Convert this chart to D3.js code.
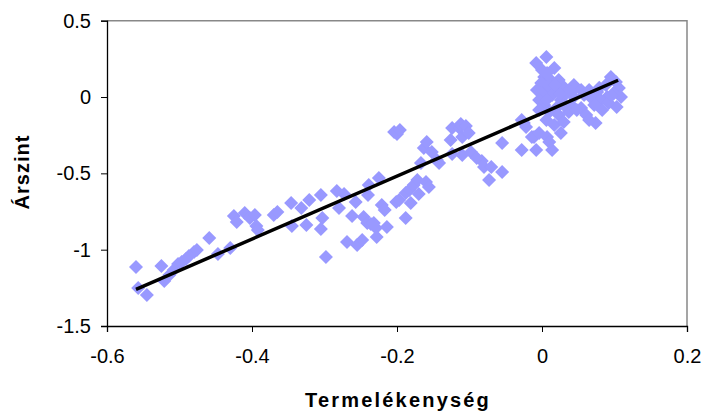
<!DOCTYPE html>
<html><head><meta charset="utf-8">
<script src="https://cdn.jsdelivr.net/npm/d3@7"></script>
<style>html,body{margin:0;padding:0;background:#fff;}svg{display:block;}</style>
</head><body><div id="chart"></div>
<script>
const xValues = [-0.560,-0.557,-0.545,-0.525,-0.521,-0.514,-0.508,-0.502,-0.497,-0.491,-0.487,-0.480,-0.476,-0.459,-0.447,-0.430,-0.425,-0.421,-0.410,-0.403,-0.396,-0.394,-0.392,-0.370,-0.365,-0.346,-0.345,-0.332,-0.325,-0.321,-0.305,-0.303,-0.305,-0.298,-0.283,-0.280,-0.273,-0.269,-0.262,-0.257,-0.255,-0.248,-0.246,-0.241,-0.240,-0.239,-0.236,-0.232,-0.229,-0.228,-0.225,-0.221,-0.217,-0.214,-0.201,-0.197,-0.204,-0.200,-0.196,-0.188,-0.188,-0.183,-0.181,-0.177,-0.172,-0.170,-0.167,-0.163,-0.160,-0.159,-0.156,-0.152,-0.145,-0.142,-0.126,-0.124,-0.124,-0.114,-0.112,-0.110,-0.110,-0.105,-0.101,-0.098,-0.083,-0.080,-0.073,-0.070,-0.055,-0.055,-0.028,-0.028,-0.022,-0.014,-0.090,
0.006,-0.008,0.000,0.017,0.003,0.012,-0.001,0.007,0.021,-0.001,0.014,0.030,0.044,0.054,0.065,0.076,0.095,0.102,0.106,0.088,0.099,0.090,0.103,0.003,0.021,0.040,0.054,0.061,0.074,0.068,0.081,0.026,0.044,-0.025,-0.011,-0.004,0.007,0.026,-0.008,0.014,0.010,-0.004,0.010,0.023,0.037,0.006,0.058,0.034,-0.004,0.017,0.030,0.092,0.072,0.023,0.007,-0.007,
0.109,0.083,0.065,0.048,0.030,0.017,0.006,0.025,0.040,0.079,0.096];
const yValues = [-1.114,-1.251,-1.297,-1.107,-1.205,-1.166,-1.133,-1.094,-1.081,-1.061,-1.041,-1.015,-1.002,-0.924,-1.028,-0.989,-0.780,-0.819,-0.760,-0.793,-0.773,-0.845,-0.871,-0.773,-0.753,-0.694,-0.845,-0.727,-0.838,-0.675,-0.642,-0.793,-0.865,-1.048,-0.616,-0.727,-0.635,-0.950,-0.780,-0.688,-0.969,-0.937,-0.786,-0.825,-0.642,-0.576,-0.832,-0.825,-0.858,-0.917,-0.531,-0.707,-0.740,-0.852,-0.688,-0.675,-0.229,-0.242,-0.216,-0.629,-0.793,-0.609,-0.694,-0.576,-0.544,-0.635,-0.432,-0.334,-0.557,-0.295,-0.590,-0.360,-0.413,-0.432,-0.282,-0.203,-0.373,-0.203,-0.177,-0.262,-0.380,-0.190,-0.236,-0.360,-0.419,-0.459,-0.544,-0.459,-0.301,-0.491,-0.347,-0.151,-0.197,-0.262,-0.400,
0.262,0.223,0.177,0.190,0.131,0.111,0.092,0.066,0.046,0.026,0.013,0.066,0.079,0.046,0.046,0.033,0.131,0.098,0.059,0.079,0.026,0.000,-0.066,-0.052,-0.066,-0.052,-0.072,-0.118,-0.170,-0.007,-0.020,-0.020,0.000,-0.170,-0.262,-0.236,-0.262,-0.236,-0.347,-0.347,-0.295,-0.020,-0.098,-0.118,-0.098,-0.151,0.013,0.026,-0.085,-0.183,-0.164,-0.039,-0.052,0.111,0.157,0.046,
0.000,-0.085,-0.151,-0.085,-0.052,0.079,-0.020,0.020,0.030,0.060,0.010];
const trendX = [-0.56, 0.105];
const trendY = [-1.26, 0.11];
const xTicks = [-0.6, -0.4, -0.2, 0, 0.2];
const yTicks = [0.5, 0, -0.5, -1, -1.5];
const xTitle = "Termelékenység";
const yTitle = "Árszint";

const W = 706, H = 412;
const L = 107, R = 687, T = 20.7, B = 326;
const svg = d3.select("#chart").append("svg").attr("width", W).attr("height", H);
const x = d3.scaleLinear().domain([-0.6, 0.2]).range([L, R]);
const y = d3.scaleLinear().domain([-1.5, 0.5]).range([B, T]);
const font = "'Liberation Sans', Arial, sans-serif";

svg.append("path").attr("d", `M${L},${T}H${R}V${B}`).attr("fill","none").attr("stroke","#888").attr("stroke-width",1.5);

const data = xValues.map((v,i)=>({x:v,y:yValues[i]}));
svg.append("g").selectAll("path").data(data).join("path")
  .attr("transform", d=>`translate(${x(d.x)},${y(d.y)})`)
  .attr("d", "M0,-7L7,0L0,7L-7,0Z")
  .attr("fill", "#9999ff");

svg.append("line")
  .attr("x1", x(trendX[0])).attr("y1", y(trendY[0]))
  .attr("x2", x(trendX[1])).attr("y2", y(trendY[1]))
  .attr("stroke", "#000").attr("stroke-width", 3.5);

const xAxis = svg.append("g").attr("transform", `translate(0,${B})`)
  .call(d3.axisBottom(x).tickValues(xTicks).tickSize(6).tickPadding(17).tickFormat(d=>String(d)));
const yAxis = svg.append("g").attr("transform", `translate(${L},0)`)
  .call(d3.axisLeft(y).tickValues(yTicks).tickSize(6).tickPadding(10).tickFormat(d=>String(d)));
[xAxis,yAxis].forEach(a=>{
  a.select(".domain").attr("stroke","#000").attr("stroke-width",1.3);
  a.selectAll(".tick line").attr("stroke","#000");
  a.selectAll("text").attr("font-family",font).attr("font-size",20).attr("fill","#000");
});

svg.append("text").attr("x", 398).attr("y", 407).attr("text-anchor","middle")
  .attr("font-family",font).attr("font-weight","bold").attr("font-size",20)
  .attr("letter-spacing","2.2px").text(xTitle);
svg.append("text").attr("transform","translate(29,172) rotate(-90)").attr("text-anchor","middle")
  .attr("font-family",font).attr("font-weight","bold").attr("font-size",20)
  .attr("letter-spacing","1px").text(yTitle);
</script></body></html>
